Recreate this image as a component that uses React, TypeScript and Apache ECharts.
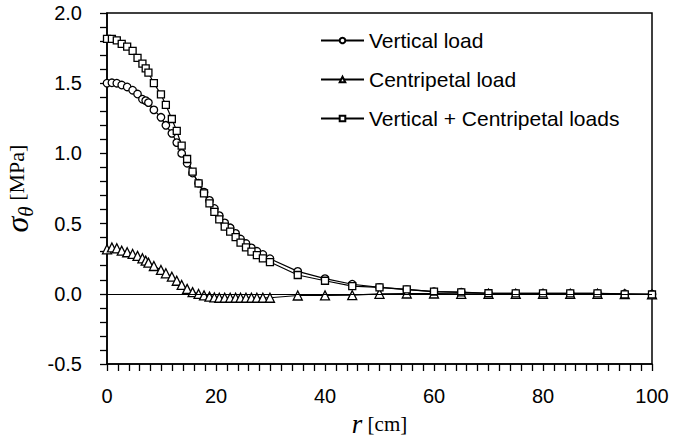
import { useEffect, useRef } from "react";
import * as echarts from "echarts";

// radial distance r [cm]
const rDense = [
  0, 0.9, 1.8, 2.7, 3.7, 4.7, 5.6, 6.5, 7.1, 7.6, 8.6, 9.9, 10.8, 11.9, 12.8, 13.7,
  14.7, 15.7, 16.8, 17.8, 18.8, 19.7, 20.6, 21.6, 22.6, 23.6, 24.5, 25.5, 26.5, 27.5,
  28.6, 29.9,
];
const rSparse = [35, 40, 45, 50, 55, 60, 65, 70, 75, 80, 85, 90, 95, 100];
const rValues = [...rDense, ...rSparse];

// sigma_theta [MPa]
const verticalLoad = [
  1.5, 1.503, 1.5, 1.487, 1.473, 1.45, 1.423, 1.386, 1.376, 1.362, 1.31, 1.257, 1.2,
  1.143, 1.077, 1.0, 0.93, 0.86, 0.787, 0.724, 0.665, 0.608, 0.557, 0.505, 0.47, 0.43,
  0.39, 0.358, 0.327, 0.303, 0.28, 0.25,
  0.16, 0.108, 0.068, 0.046, 0.03, 0.015, 0.012, 0.004, 0.003, 0.003, 0.003, 0.003, 0.0,
  -0.003,
];
const centripetalLoad = [
  0.317, 0.33, 0.324, 0.307, 0.296, 0.284, 0.27, 0.253, 0.236, 0.222, 0.198, 0.17, 0.146,
  0.122, 0.093, 0.063, 0.035, 0.012, -0.001, -0.011, -0.02, -0.026, -0.028, -0.028,
  -0.028, -0.028, -0.028, -0.028, -0.028, -0.028, -0.028, -0.028,
  -0.012, -0.011, -0.01, 0.0, 0.002, 0.002, 0.0, 0.0, 0.0, 0.0, 0.0, 0.0, -0.002, -0.004,
];
const combinedLoads = [
  1.815, 1.815, 1.805, 1.78, 1.76, 1.73, 1.68, 1.64, 1.605, 1.575, 1.5, 1.42, 1.345,
  1.245, 1.16, 1.055, 0.96, 0.87, 0.786, 0.715, 0.644, 0.584, 0.53, 0.478, 0.443, 0.403,
  0.364, 0.331, 0.3, 0.276, 0.253, 0.226,
  0.134, 0.093, 0.055, 0.046, 0.032, 0.015, 0.01, 0.004, 0.003, 0.003, 0.003, 0.003,
  -0.004, -0.005,
];

const seriesNames = ["Vertical load", "Centripetal load", "Vertical + Centripetal loads"];
const xTicks = [0, 100, 20];
const yTicks = [-0.5, 2.0, 0.5];

const SANS = "'Liberation Sans', Arial, sans-serif";
const SERIF = "'Liberation Serif', 'Times New Roman', serif";

export default function App() {
  const ref = useRef<HTMLDivElement>(null);

  useEffect(() => {
    if (!ref.current) return;
    const chart = echarts.init(ref.current, undefined, { renderer: "svg" });
    const pairs = (vals: number[]) => rValues.map((r, i) => [r, vals[i]]);
    const mk = (name: string, vals: number[], symbol: string, size: number, extra: any = {}) => ({
      name,
      type: "line",
      data: pairs(vals),
      symbol,
      symbolSize: size,
      showAllSymbol: true,
      lineStyle: { color: "#000", width: 1.2 },
      itemStyle: { color: "#fff", borderColor: "#000", borderWidth: 1.3 },
      emphasis: { disabled: true },
      ...extra,
    });
    chart.setOption({
      animation: false,
      backgroundColor: "#fff",
      grid: {
        left: 107,
        right: 21,
        top: 13,
        bottom: 74,
        outerBoundsMode: "none",
        containLabel: false,
        show: true,
        borderColor: "#000",
        borderWidth: 1.5,
        backgroundColor: "transparent",
      },
      legend: {
        orient: "vertical",
        left: 320,
        top: 30,
        itemWidth: 43,
        itemHeight: 7,
        itemGap: 18,
        padding: 0,
        textStyle: { fontSize: 21, fontFamily: SANS, color: "#000", lineHeight: 21 },
        data: seriesNames,
      },
      xAxis: {
        type: "value",
        min: xTicks[0],
        max: xTicks[1],
        interval: xTicks[2],
        name: "{r|r}{c| [cm]}",
        nameLocation: "middle",
        nameGap: 46,
        nameTextStyle: {
          rich: {
            r: { fontFamily: SERIF, fontStyle: "italic", fontSize: 27, color: "#000" },
            c: { fontFamily: SERIF, fontSize: 21, color: "#000" },
          },
        },
        axisLine: { show: true, onZero: false, lineStyle: { color: "#000", width: 1.5 } },
        axisTick: { show: true, inside: false, length: 7, lineStyle: { color: "#000", width: 1.3 } },
        minorTick: { show: true, splitNumber: 10, length: 7, lineStyle: { color: "#000", width: 1.3 } },
        splitLine: { show: false },
        axisLabel: { fontSize: 20, fontFamily: SANS, color: "#000", margin: 22 },
      },
      yAxis: {
        type: "value",
        min: yTicks[0],
        max: yTicks[1],
        interval: yTicks[2],
        name: "{s|σ}{t|θ}{m| [MPa]}",
        nameLocation: "middle",
        nameGap: 70,
        nameTextStyle: {
          rich: {
            s: { fontFamily: SERIF, fontStyle: "italic", fontSize: 32, color: "#000" },
            t: {
              fontFamily: SERIF,
              fontStyle: "italic",
              fontSize: 21,
              color: "#000",
              verticalAlign: "bottom",
              padding: [0, 0, -4, 0],
            },
            m: { fontFamily: SERIF, fontSize: 22, color: "#000" },
          },
        },
        axisLine: { show: true, onZero: false, lineStyle: { color: "#000", width: 1.5 } },
        axisTick: { show: true, inside: false, length: 7, lineStyle: { color: "#000", width: 1.3 } },
        minorTick: { show: true, splitNumber: 5, length: 7, lineStyle: { color: "#000", width: 1.3 } },
        splitLine: { show: false },
        axisLabel: {
          fontSize: 20,
          fontFamily: SANS,
          color: "#000",
          margin: 25,
          formatter: (v: number) => v.toFixed(1),
        },
      },
      series: [
        mk(seriesNames[0], verticalLoad, "circle", 7.5, {
          markLine: {
            silent: true,
            symbol: "none",
            label: { show: false },
            lineStyle: { color: "#000", width: 1.2, type: "solid" },
            emphasis: { disabled: true },
            data: [{ yAxis: 0 }],
          },
        }),
        mk(seriesNames[1], centripetalLoad, "triangle", 9),
        mk(seriesNames[2], combinedLoads, "rect", 7),
      ],
    });
    return () => chart.dispose();
  }, []);

  return <div ref={ref} style={{ width: 673, height: 438, position: "absolute", left: 0, top: 0 }} />;
}
